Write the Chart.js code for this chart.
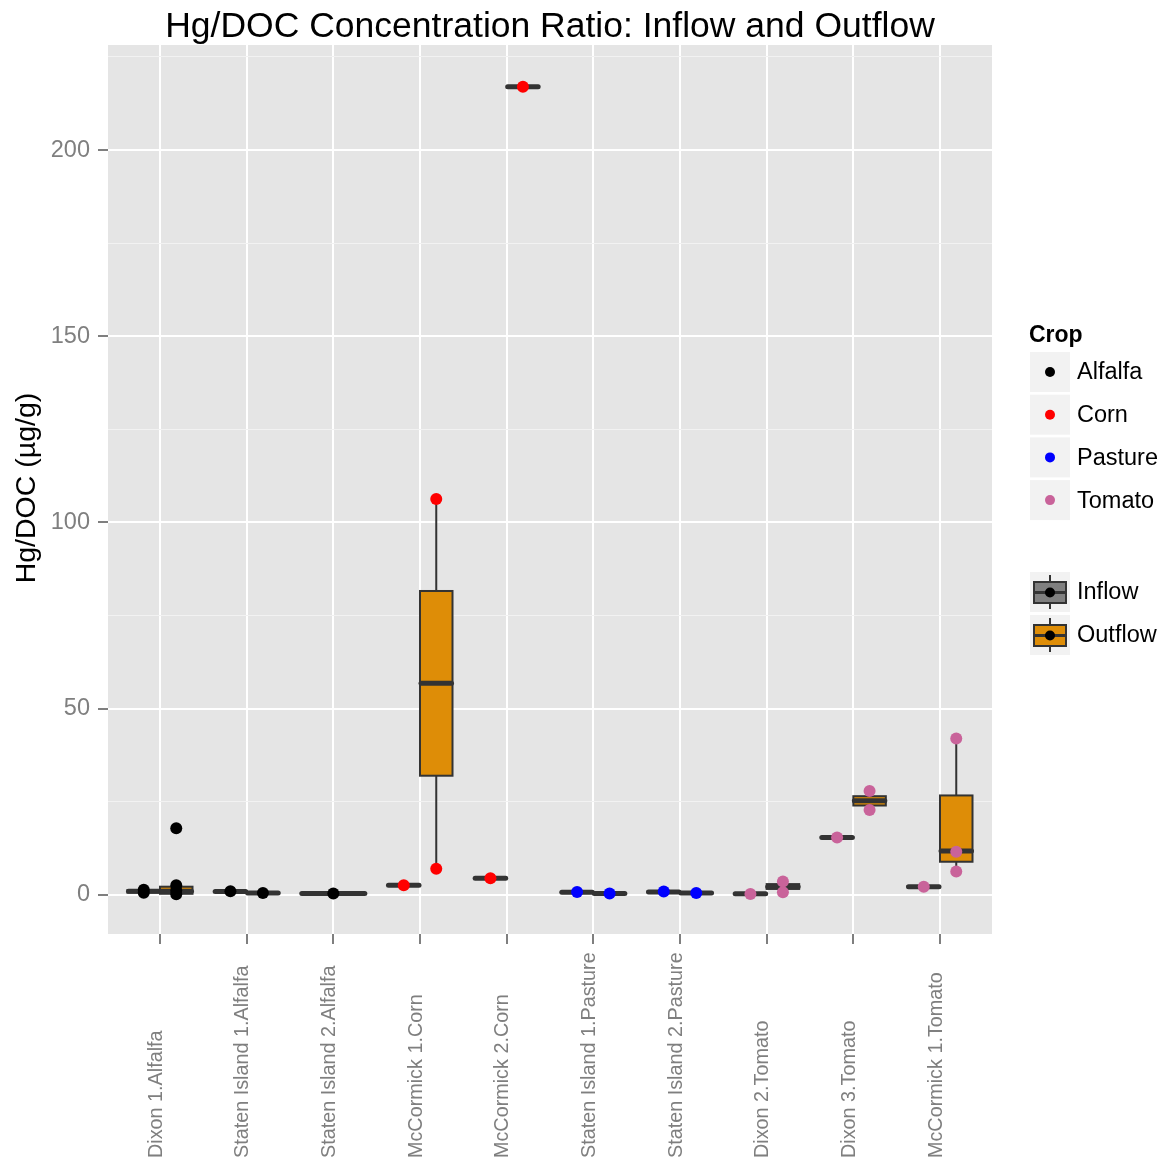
<!DOCTYPE html>
<html><head><meta charset="utf-8">
<script src="https://cdn.jsdelivr.net/npm/chart.js@4"></script>
<style>html,body{margin:0;padding:0;background:#fff}canvas{display:block}</style>
</head><body>
<canvas id="c" width="1164" height="1162"></canvas>
<script>
// ---------------- data ----------------
const categories = ['Dixon 1.Alfalfa','Staten Island 1.Alfalfa','Staten Island 2.Alfalfa','McCormick 1.Corn','McCormick 2.Corn','Staten Island 1.Pasture','Staten Island 2.Pasture','Dixon 2.Tomato','Dixon 3.Tomato','McCormick 1.Tomato'];
const cropOf = ['Alfalfa','Alfalfa','Alfalfa','Corn','Corn','Pasture','Pasture','Tomato','Tomato','Tomato'];
const crops = ['Alfalfa','Corn','Pasture','Tomato'];
const cropColors = ['#000000','#FF0000','#0000FF','#C9639A'];
const flows = ['Inflow','Outflow'];
const flowFills = ['#7F7F7F','#DE8D07'];

// box statistics (whisker low, Q1, median, Q3, whisker high); null = group absent
const inflowLow  = [0.4, 0.8, 0.3, 2.5, 4.4, 0.6, 0.7, 0.2, 15.3, 2.1];
const inflowQ1   = [0.6, 0.9, 0.4, 2.6, 4.5, 0.7, 0.8, 0.3, 15.4, 2.2];
const inflowMed  = [1.0, 0.9, 0.4, 2.6, 4.5, 0.7, 0.8, 0.3, 15.4, 2.2];
const inflowQ3   = [1.3, 1.0, 0.5, 2.7, 4.6, 0.8, 0.9, 0.3, 15.5, 2.3];
const inflowHigh = [1.5, 1.0, 0.5, 2.7, 4.6, 0.8, 0.9, 0.4, 15.5, 2.3];

const outflowLow  = [0.2, 0.4, null, 7.0, 216.9, 0.3, 0.4, 0.7, 22.8, 6.3];
const outflowQ1   = [0.3, 0.5, null, 32.0, 217.0, 0.3, 0.5, 1.6, 24.0, 8.9];
const outflowMed  = [1.0, 0.5, null, 56.8, 217.0, 0.35, 0.5, 2.2, 25.3, 11.8];
const outflowQ3   = [2.2, 0.6, null, 81.6, 217.0, 0.4, 0.6, 2.9, 26.5, 26.7];
const outflowHigh = [2.6, 0.6, null, 106.3, 217.1, 0.4, 0.6, 3.6, 27.9, 42.0];

// individual observations
const inflowPoints  = [[0.6,1.4],[1.0],[0.4],[2.6],[4.5],[0.8],[0.9],[0.27],[15.4],[2.2]];
const outflowPoints = [[17.9,2.6,1.2,0.2],[0.5],[],[106.3,7.0],[217.0],[0.35],[0.5],[3.6,0.7],[27.9,22.8],[42.0,11.6,6.3]];

const yTicks = [0,50,100,150,200];
const yMinorTicks = [25,75,125,175,225];
const yMin = -10.5, yMax = 228.2;
const xMin = -0.6, xMax = 9.6;

// ---------------- helpers ----------------
const FONT = '"Liberation Sans", Arial, Helvetica, sans-serif';
function stats(g, i){
  return g===0
    ? [inflowLow[i],inflowQ1[i],inflowMed[i],inflowQ3[i],inflowHigh[i]]
    : [outflowLow[i],outflowQ1[i],outflowMed[i],outflowQ3[i],outflowHigh[i]];
}
function groupsAt(i){
  const g=[]; if(inflowMed[i]!=null) g.push(0); if(outflowMed[i]!=null) g.push(1); return g;
}
function centerOf(i,g){
  const gs=groupsAt(i);
  if(gs.length<2) return i;
  return i + (g===0 ? -0.1875 : 0.1875);
}
function widthOf(i){ return groupsAt(i).length<2 ? 0.75 : 0.375; }

const datasets = crops.map((crop,k)=>{
  const data=[];
  categories.forEach((c,i)=>{
    if(cropOf[i]!==crop) return;
    inflowPoints[i].forEach(v=>data.push({x:centerOf(i,0), y:v}));
    outflowPoints[i].forEach(v=>data.push({x:centerOf(i,1), y:v}));
  });
  return {label:crop, data, backgroundColor:cropColors[k], borderColor:cropColors[k],
          pointRadius:6, pointBorderWidth:0, pointHoverRadius:6};
});

const boxPlugin = {
  id:'ggbox',
  beforeDraw(chart){
    const {ctx, chartArea:a} = chart;
    ctx.save(); ctx.fillStyle='#E5E5E5';
    ctx.fillRect(a.left,a.top,a.right-a.left,a.bottom-a.top); ctx.restore();
  },
  beforeDatasetsDraw(chart){
    const {ctx, chartArea:a} = chart; const xs=chart.scales.x, ys=chart.scales.y;
    ctx.save();
    ctx.beginPath(); ctx.rect(a.left,a.top,a.right-a.left,a.bottom-a.top); ctx.clip();
    categories.forEach((c,i)=>{
      groupsAt(i).forEach(g=>{
        const [lo,q1,md,q3,hi]=stats(g,i);
        const cx=centerOf(i,g), w=widthOf(i);
        const xl=xs.getPixelForValue(cx-w/2), xr=xs.getPixelForValue(cx+w/2), xc=xs.getPixelForValue(cx);
        const pLo=ys.getPixelForValue(lo), p1=ys.getPixelForValue(q1), pm=ys.getPixelForValue(md),
              p3=ys.getPixelForValue(q3), pHi=ys.getPixelForValue(hi);
        ctx.strokeStyle='#333333'; ctx.lineWidth=2; ctx.lineCap='butt';
        ctx.beginPath(); ctx.moveTo(xc,pHi); ctx.lineTo(xc,p3); ctx.moveTo(xc,p1); ctx.lineTo(xc,pLo); ctx.stroke();
        ctx.fillStyle=flowFills[g];
        ctx.fillRect(xl,p3,xr-xl,p1-p3);
        ctx.strokeRect(xl,p3,xr-xl,p1-p3);
        ctx.lineWidth=5; ctx.lineCap='round';
        ctx.beginPath(); ctx.moveTo(xl+1,pm); ctx.lineTo(xr-1,pm); ctx.stroke();
      });
    });
    ctx.restore();
  },
  afterDraw(chart){
    const {ctx, chartArea:a} = chart; const xs=chart.scales.x;
    ctx.save();
    // title
    ctx.fillStyle='#000'; ctx.font='35.5px '+FONT; ctx.textAlign='center'; ctx.textBaseline='alphabetic';
    ctx.fillText('Hg/DOC Concentration Ratio: Inflow and Outflow', (a.left+a.right)/2, 37);
    // y title
    ctx.save(); ctx.translate(35,488); ctx.rotate(-Math.PI/2);
    ctx.font='28.5px '+FONT; ctx.textAlign='center'; ctx.fillText('Hg/DOC (\u00B5g/g)',0,0); ctx.restore();
    // x labels
    ctx.fillStyle='#7F7F7F'; ctx.font='19.8px '+FONT;
    categories.forEach((c,i)=>{
      const px=xs.getPixelForValue(i);
      ctx.save(); ctx.translate(px+1.5,1158); ctx.rotate(-Math.PI/2);
      ctx.textAlign='left'; ctx.textBaseline='alphabetic'; ctx.fillText(c,0,0); ctx.restore();
    });
    // legend: Crop
    ctx.fillStyle='#000'; ctx.font='bold 23px '+FONT; ctx.textAlign='left'; ctx.textBaseline='alphabetic';
    ctx.fillText('Crop',1029,342);
    ctx.font='23.5px '+FONT; ctx.textBaseline='middle';
    crops.forEach((cr,k)=>{
      const top=352+k*42.7;
      ctx.fillStyle='#F2F2F2'; ctx.fillRect(1030,top,40,40);
      ctx.fillStyle=cropColors[k]; ctx.beginPath(); ctx.arc(1050,top+20,5,0,Math.PI*2); ctx.fill();
      ctx.fillStyle='#000'; ctx.fillText(cr,1077,top+21);
    });
    // legend: flow
    flows.forEach((f,g)=>{
      const top=572+g*43;
      ctx.fillStyle='#F2F2F2'; ctx.fillRect(1030,top,40,40);
      ctx.strokeStyle='#333333'; ctx.lineWidth=2;
      ctx.beginPath(); ctx.moveTo(1050,top+3); ctx.lineTo(1050,top+37); ctx.stroke();
      ctx.fillStyle=flowFills[g]; ctx.fillRect(1034,top+10,32,21); ctx.strokeRect(1034,top+10,32,21);
      ctx.lineWidth=3; ctx.beginPath(); ctx.moveTo(1034,top+20.5); ctx.lineTo(1066,top+20.5); ctx.stroke();
      ctx.fillStyle='#000'; ctx.beginPath(); ctx.arc(1050,top+20.5,5,0,Math.PI*2); ctx.fill();
      ctx.fillText(f,1077,top+21);
    });
    ctx.restore();
  }
};

new Chart(document.getElementById('c'), {
  type:'scatter',
  data:{datasets},
  plugins:[boxPlugin],
  options:{
    responsive:false, animation:false, devicePixelRatio:1,
    layout:{padding:{left:0,right:172,top:45,bottom:0}},
    plugins:{legend:{display:false}, title:{display:false}, tooltip:{enabled:false}},
    scales:{
      x:{type:'linear', min:xMin, max:xMax, position:'bottom',
         afterBuildTicks:(ax)=>{ ax.ticks=categories.map((c,i)=>({value:i})); },
         afterFit:(ax)=>{ ax.height=228; },
         ticks:{display:false},
         grid:{color:'#FFFFFF', lineWidth:2, tickColor:'#7F7F7F', tickLength:10, tickWidth:2},
         border:{display:false}},
      y2:{type:'linear', min:yMin, max:yMax, position:'left',
         afterBuildTicks:(ax)=>{ ax.ticks=yMinorTicks.map(v=>({value:v})); },
         afterFit:(ax)=>{ ax.width=0; },
         ticks:{display:false},
         grid:{color:'#F2F2F2', lineWidth:1, drawTicks:false},
         border:{display:false}},
      y:{type:'linear', min:yMin, max:yMax, position:'left',
         afterBuildTicks:(ax)=>{ ax.ticks=yTicks.map(v=>({value:v})); },
         afterFit:(ax)=>{ ax.width=108; },
         ticks:{color:'#7F7F7F', font:{family:FONT, size:23.5}, padding:8},
         grid:{color:'#FFFFFF', lineWidth:2, tickColor:'#7F7F7F', tickLength:10, tickWidth:2},
         border:{display:false}}
    }
  }
});
</script>
</body></html>
